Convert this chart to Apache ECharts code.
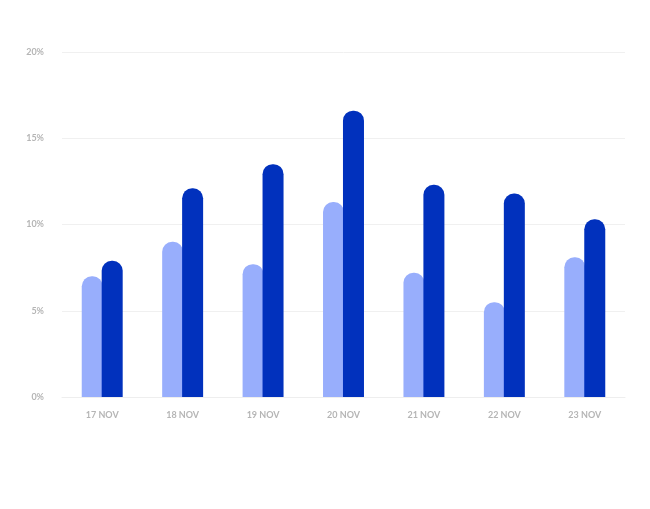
<!DOCTYPE html>
<html>
<head>
<meta charset="utf-8">
<script src="https://cdn.jsdelivr.net/npm/echarts@6/dist/echarts.min.js"></script>
<style>html,body{margin:0;background:#fff}#main{width:650px;height:509px}</style>
</head>
<body>
<div id="main"></div>
<script>
var categories = ['17 NOV', '18 NOV', '19 NOV', '20 NOV', '21 NOV', '22 NOV', '23 NOV'];
var lightValues = [7.0, 9.0, 7.7, 11.3, 7.2, 5.5, 8.1];
var darkValues = [7.9, 12.1, 13.5, 16.6, 12.3, 11.8, 10.3];

var myChart = echarts.init(document.getElementById('main'));

var labelStyle = {
    color: '#b5b5b5',
    fontSize: 9,
    fontWeight: 'bold',
    fontFamily: 'Lato, sans-serif'
};

var option = {
    animation: false,
    grid: { left: 62, right: 25, top: 52, bottom: 112 },
    xAxis: {
        type: 'category',
        data: categories,
        axisLine: { lineStyle: { color: '#eeeeee' } },
        axisTick: { show: false },
        axisLabel: Object.assign({ margin: 14 }, labelStyle)
    },
    yAxis: {
        type: 'value',
        min: 0,
        max: 20,
        interval: 5,
        axisLabel: Object.assign({ formatter: '{value}%', margin: 18 }, labelStyle),
        splitLine: { lineStyle: { color: '#f0f0f0' } }
    },
    series: [
        {
            type: 'bar',
            data: lightValues,
            barWidth: 21,
            barGap: '-5%',
            itemStyle: { color: '#98aefc', borderRadius: [10, 10, 0, 0] }
        },
        {
            type: 'bar',
            data: darkValues,
            barWidth: 21,
            itemStyle: { color: '#0131bd', borderRadius: [10, 10, 0, 0] }
        }
    ]
};

myChart.setOption(option);
</script>
</body>
</html>
